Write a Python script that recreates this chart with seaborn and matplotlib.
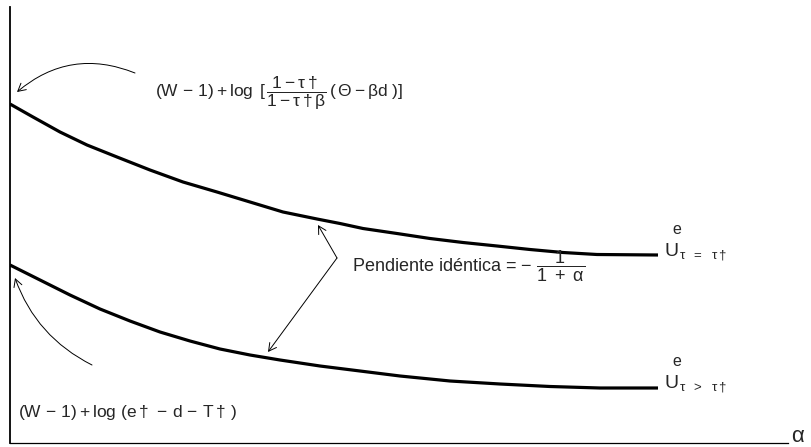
import matplotlib
matplotlib.use("Agg")
import matplotlib.pyplot as plt
import seaborn as sns
import pandas as pd

# Utility curves U(alpha) for the two tax regimes (arbitrary units)
alpha_eq = [0, 23, 50, 77, 107, 140, 173, 207, 240, 273, 307, 330, 353,
            387, 420, 453, 487, 520, 553, 587, 648]
u_eq = [339, 326, 311, 298, 286, 273, 261, 251, 241, 231, 224, 219.5, 214.5,
        209.5, 204.5, 200.5, 197, 193.5, 190.5, 188.5, 188]

alpha_gt = [0, 30, 60, 90, 120, 150, 180, 210, 240, 270, 310, 350, 390,
            440, 490, 540, 590, 648]
u_gt = [178, 163, 148, 134, 122, 111, 102, 94, 88, 83, 77, 72, 67,
        62, 59, 56.5, 55, 55]

sns.set_style("white")
plt.rcParams["font.family"] = ["Liberation Sans", "DejaVu Sans"]
plt.rcParams["mathtext.fontset"] = "custom"
plt.rcParams["mathtext.rm"] = "Liberation Sans"
plt.rcParams["mathtext.it"] = "Liberation Sans"
plt.rcParams["mathtext.bf"] = "Liberation Sans:bold"

df_eq = pd.DataFrame({"alpha": alpha_eq, "U": u_eq})
df_gt = pd.DataFrame({"alpha": alpha_gt, "U": u_gt})

fig = plt.figure(figsize=(8.11, 4.47), dpi=100)
ax = fig.add_axes([10 / 811, 4 / 447, 778 / 811, 436 / 447])

line_kw = dict(color="black", lw=2.3, sort=False)
sns.lineplot(data=df_eq, x="alpha", y="U", ax=ax, **line_kw)
sns.lineplot(data=df_gt, x="alpha", y="U", ax=ax, **line_kw)
for ln in ax.lines:
    ln.set_solid_joinstyle("round")
    ln.set_solid_capstyle("butt")

ax.set_xlim(0, 778)
ax.set_ylim(0, 436)
ax.set_xticks([])
ax.set_yticks([])
ax.set_xlabel("")
ax.set_ylabel("")
for side in ("top", "right"):
    ax.spines[side].set_visible(False)
ax.spines["left"].set_linewidth(1.3)
ax.spines["bottom"].set_linewidth(0.9)
for side in ("left", "bottom"):
    ax.spines[side].set_color("black")

fs = 12.5
arrow = dict(arrowstyle="->,head_length=0.55,head_width=0.3", lw=0.7,
             color="black", shrinkA=0, shrinkB=0)

# Intercept of the upper curve
ax.text(145, 350,
        r"$(W\,-\,1) + \log\ [\,\dfrac{1 - \tau\dagger}{1 - \tau\dagger\beta}\,(\,\Theta - \beta d\ )]$",
        fontsize=fs, va="center", ha="left")
ax.annotate("", xy=(7, 351), xytext=(125, 370),
            arrowprops=dict(arrow, connectionstyle="arc3,rad=0.3"))

# Intercept of the lower curve
ax.text(8, 31, r"$(W\,-\,1) + \log\,(e\dagger\,-\,d\,-\,T\dagger\,)$",
        fontsize=fs, va="center", ha="left")
ax.annotate("", xy=(5, 165), xytext=(82, 78),
            arrowprops=dict(arrow, connectionstyle="arc3,rad=-0.2"))

# Common slope
ax.text(342, 177, r"Pendiente idéntica = $-\ \dfrac{1}{1\ +\ \alpha}$",
        fontsize=13, va="center", ha="left")
ax.annotate("", xy=(308, 218), xytext=(327, 185), arrowprops=arrow)
ax.annotate("", xy=(258, 91), xytext=(327, 185), arrowprops=arrow)

# Curve labels: U, superscript e, regime subscript
for base, sub in ((187, r"$\tau\ \ =\ \ \tau\dagger$"), (55, r"$\tau\ \ >\ \ \tau\dagger$")):
    ax.text(655, base, "U", fontsize=14, va="baseline", ha="left")
    ax.text(662, base + 26, "e", fontsize=11.5, va="center", ha="left")
    ax.text(669, base - 3, sub, fontsize=9.5, va="baseline", ha="left")

# Horizontal axis label
ax.text(781, 6, r"$\alpha$", fontsize=16, va="center", ha="left", clip_on=False)

fig.savefig("out.png", dpi=100)
